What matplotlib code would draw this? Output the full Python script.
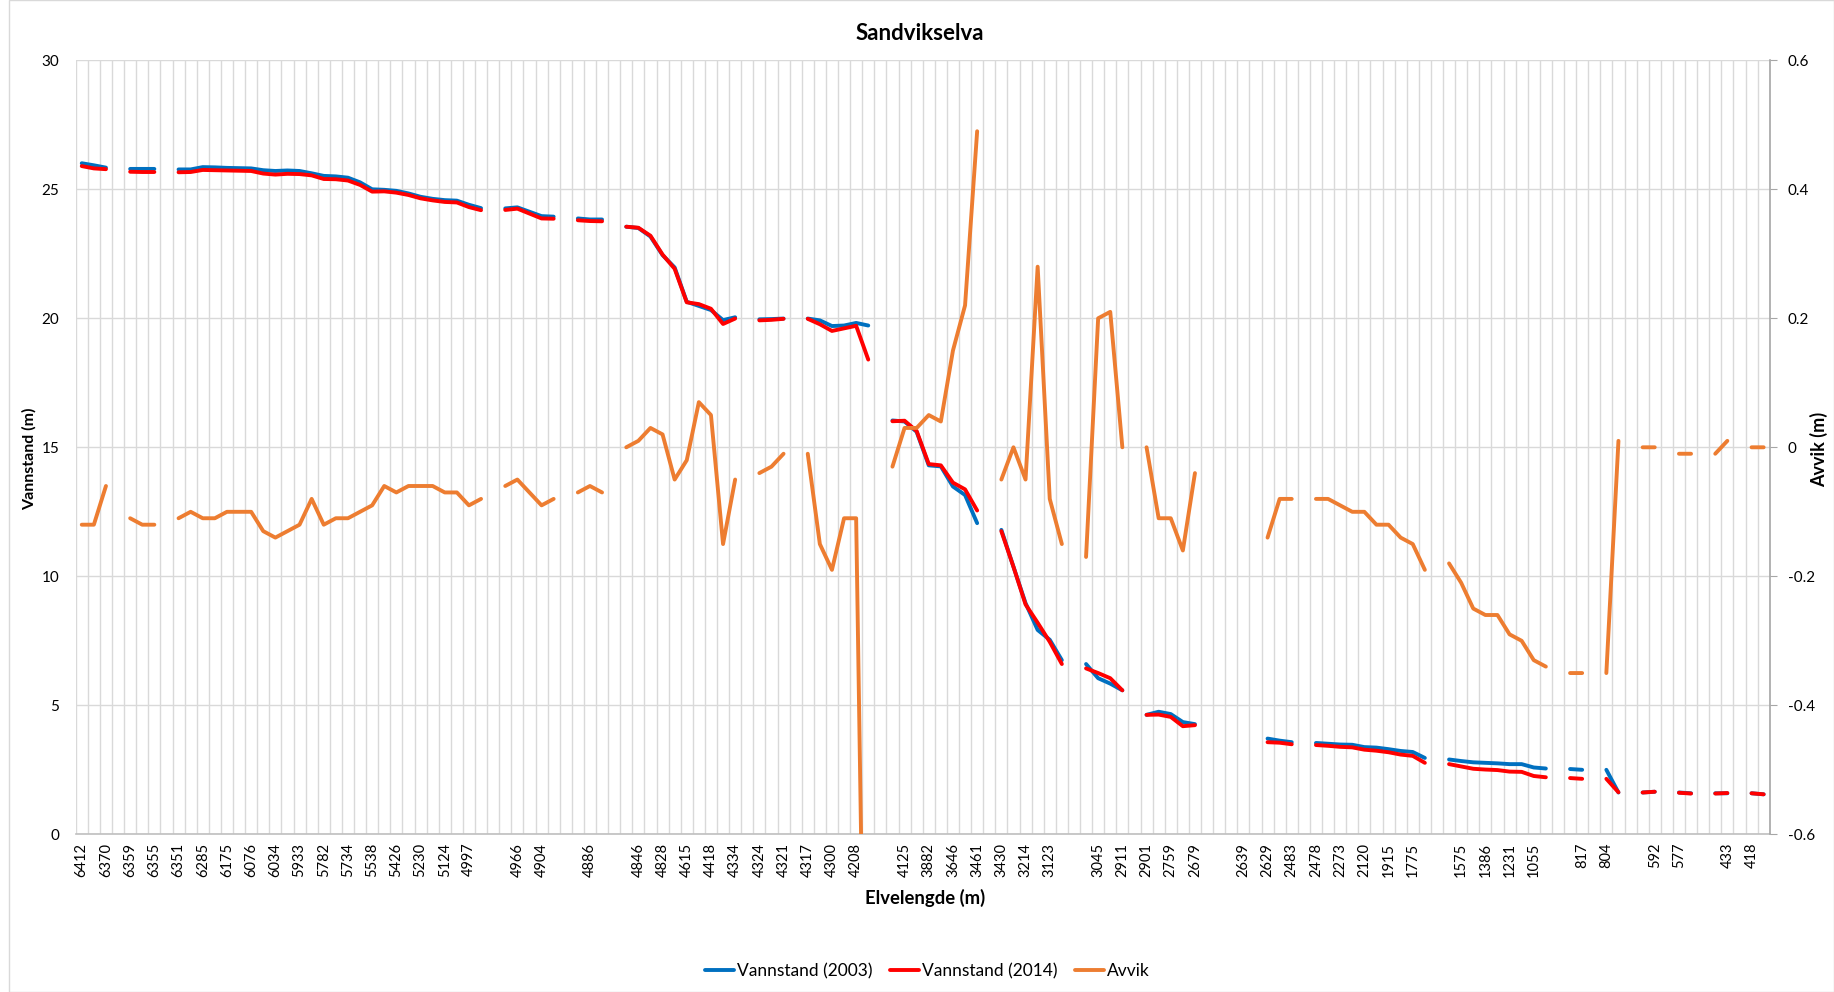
import numpy as np
import matplotlib
matplotlib.use("Agg")
import matplotlib.pyplot as plt
from matplotlib.patches import Rectangle

nan = np.nan

# Category tick labels (shown on every second category)
slot_labels = ["6412", "6370", "6359", "6355", "6351", "6285", "6175", "6076", "6034", "5933",
               "5782", "5734", "5538", "5426", "5230", "5124", "4997", "", "4966", "4904",
               "", "4886", "", "4846", "4828", "4615", "4418", "4334", "4324", "4321",
               "4317", "4300", "4208", "", "4125", "3882", "3646", "3461", "3430", "3214",
               "3123", "", "3045", "2911", "2901", "2759", "2679", "", "2639", "2629",
               "2483", "2478", "2273", "2120", "1915", "1775", "", "1575", "1386", "1231",
               "1055", "", "817", "804", "", "592", "577", "", "433", "418"]

# Vannstand (2003)
vann_2003 = [
    26.01, 25.93, 25.84, nan, 25.79, 25.79, 25.79, nan, 25.77, 25.77,
    25.86, 25.85, 25.83, 25.82, 25.81, 25.74, 25.71, 25.73, 25.71, 25.62,
    25.52, 25.50, 25.45, 25.27, 25.00, 24.98, 24.94, 24.84, 24.71, 24.63,
    24.58, 24.56, 24.40, 24.27, nan, 24.26, 24.30, 24.13, 23.96, 23.94,
    nan, 23.87, 23.83, 23.83, nan, 23.55, 23.50, 23.17, 22.45, 21.97,
    20.64, 20.48, 20.32, 19.93, 20.04, nan, 19.96, 19.97, 19.99, nan,
    19.99, 19.92, 19.70, 19.72, 19.82, 19.72, nan, 16.04, 16.00, 15.60,
    14.30, 14.26, 13.48, 13.15, 12.06, nan, 11.80, 10.37, 8.96, 7.92,
    7.54, 6.75, nan, 6.60, 6.05, 5.84, 5.58, nan, 4.63, 4.75,
    4.66, 4.35, 4.27, nan, nan, nan, nan, nan, 3.71, 3.63,
    3.57, nan, 3.54, 3.51, 3.48, 3.47, 3.38, 3.36, 3.30, 3.23,
    3.19, 2.96, nan, 2.90, 2.84, 2.79, 2.77, 2.75, 2.72, 2.72,
    2.59, 2.55, nan, 2.53, 2.50, nan, 2.50, 1.62, nan, 1.62,
    1.65, nan, 1.62, 1.59, nan, 1.59, 1.59, nan, 1.59, 1.55]

# Vannstand (2014)
vann_2014 = [
    25.90, 25.81, 25.78, nan, 25.68, 25.67, 25.67, nan, 25.66, 25.67,
    25.75, 25.74, 25.73, 25.72, 25.71, 25.61, 25.57, 25.60, 25.59, 25.54,
    25.40, 25.39, 25.34, 25.17, 24.91, 24.92, 24.87, 24.78, 24.65, 24.57,
    24.51, 24.49, 24.31, 24.19, nan, 24.20, 24.25, 24.06, 23.87, 23.86,
    nan, 23.80, 23.77, 23.76, nan, 23.55, 23.51, 23.20, 22.47, 21.92,
    20.62, 20.55, 20.37, 19.78, 19.99, nan, 19.92, 19.94, 19.98, nan,
    19.98, 19.77, 19.51, 19.61, 19.71, 18.40, nan, 16.01, 16.03, 15.63,
    14.35, 14.30, 13.63, 13.37, 12.55, nan, 11.75, 10.37, 8.91, 8.20,
    7.46, 6.60, nan, 6.43, 6.25, 6.05, 5.58, nan, 4.63, 4.64,
    4.55, 4.19, 4.23, nan, nan, nan, nan, nan, 3.57, 3.55,
    3.49, nan, 3.46, 3.43, 3.39, 3.37, 3.28, 3.24, 3.18, 3.09,
    3.04, 2.77, nan, 2.72, 2.63, 2.54, 2.51, 2.49, 2.43, 2.42,
    2.26, 2.21, nan, 2.18, 2.15, nan, 2.15, 1.63, nan, 1.62,
    1.65, nan, 1.61, 1.58, nan, 1.58, 1.60, nan, 1.59, 1.55]

# Avvik (m)
avvik = [
    -0.12, -0.12, -0.06, nan, -0.11, -0.12, -0.12, nan, -0.11, -0.10,
    -0.11, -0.11, -0.10, -0.10, -0.10, -0.13, -0.14, -0.13, -0.12, -0.08,
    -0.12, -0.11, -0.11, -0.10, -0.09, -0.06, -0.07, -0.06, -0.06, -0.06,
    -0.07, -0.07, -0.09, -0.08, nan, -0.06, -0.05, -0.07, -0.09, -0.08,
    nan, -0.07, -0.06, -0.07, nan, 0.00, 0.01, 0.03, 0.02, -0.05,
    -0.02, 0.07, 0.05, -0.15, -0.05, nan, -0.04, -0.03, -0.01, nan,
    -0.01, -0.15, -0.19, -0.11, -0.11, -1.32, nan, -0.03, 0.03, 0.03,
    0.05, 0.04, 0.15, 0.22, 0.49, nan, -0.05, 0.00, -0.05, 0.28,
    -0.08, -0.15, nan, -0.17, 0.20, 0.21, 0.00, nan, 0.00, -0.11,
    -0.11, -0.16, -0.04, nan, nan, nan, nan, nan, -0.14, -0.08,
    -0.08, nan, -0.08, -0.08, -0.09, -0.10, -0.10, -0.12, -0.12, -0.14,
    -0.15, -0.19, nan, -0.18, -0.21, -0.25, -0.26, -0.26, -0.29, -0.30,
    -0.33, -0.34, nan, -0.35, -0.35, nan, -0.35, 0.01, nan, 0.00,
    0.00, nan, -0.01, -0.01, nan, -0.01, 0.01, nan, 0.00, 0.00]

FONT = ["Lato", "DejaVu Sans"]
plt.rcParams["font.family"] = FONT

W, H = 1834, 992
fig = plt.figure(figsize=(W / 100, H / 100), dpi=100)
L, R, T, B = 75.7, 1769.7, 60.3, 834.3
ax = fig.add_axes([L / W, 1 - B / H, (R - L) / W, (B - T) / H])

n = len(vann_2003)
x = np.arange(n)

grid_c = "#d9d9d9"
ax.set_xlim(-0.5, n - 0.5)
ax.set_ylim(0, 30)
ax.set_yticks(np.arange(0, 31, 5))
ax.set_yticklabels([str(v) for v in range(0, 31, 5)], fontsize=11)
ax.tick_params(axis="y", length=0, pad=12)
ax.set_xticks(np.arange(0, n, 2))
ax.set_xticklabels(slot_labels, rotation=90, fontsize=10.5)
ax.set_xticks(np.arange(-0.5, n, 1), minor=True)
ax.tick_params(axis="x", which="both", length=0, pad=6)
ax.grid(True, axis="y", which="major", color=grid_c, lw=1.0)
ax.grid(True, axis="x", which="minor", color=grid_c, lw=1.0)
ax.set_axisbelow(True)
for s in ["top", "left", "right"]:
    ax.spines[s].set_visible(False)
ax.spines["bottom"].set_color("#bfbfbf")
ax.spines["bottom"].set_linewidth(1.2)

LW = 2.8
l1, = ax.plot(x, vann_2003, color="#0070C0", lw=LW, solid_capstyle="round",
              solid_joinstyle="round", label="Vannstand (2003)")
l2, = ax.plot(x, vann_2014, color="#FF0000", lw=LW, solid_capstyle="round",
              solid_joinstyle="round", label="Vannstand (2014)")

ax2 = ax.twinx()
ax2.set_ylim(-0.6, 0.6)
rt = [-0.6, -0.4, -0.2, 0.0, 0.2, 0.4, 0.6]
ax2.set_yticks(rt)
ax2.set_yticklabels(["-0.6", "-0.4", "-0.2", "0", "0.2", "0.4", "0.6"], fontsize=11)
ax2.tick_params(axis="y", length=5, color="#a6a6a6", pad=8)
for s in ["top", "left", "bottom"]:
    ax2.spines[s].set_visible(False)
ax2.spines["right"].set_color("#a6a6a6")
ax2.spines["right"].set_linewidth(1.2)
l3, = ax2.plot(x, avvik, color="#ED7D31", lw=LW, solid_capstyle="round",
               solid_joinstyle="round", label="Avvik")

fig.text(920 / W, 1 - 33 / H, "Sandvikselva", ha="center", va="center",
         fontsize=16, fontweight="bold")
fig.text(29 / W, 1 - 459 / H, "Vannstand (m)", ha="center", va="center",
         rotation=90, fontsize=11.5, fontweight="bold")
fig.text(1819 / W, 1 - 449 / H, "Avvik (m)", ha="center", va="center",
         rotation=90, fontsize=13, fontweight="bold")
fig.text(925 / W, 1 - 898 / H, "Elvelengde (m)", ha="center", va="center",
         fontsize=13.3, fontweight="bold")

fig.legend(handles=[l1, l2, l3], loc="center", bbox_to_anchor=(927 / W, 1 - 971 / H),
           ncol=3, frameon=False, fontsize=12.5, handlelength=1.7, handletextpad=0.15,
           columnspacing=1.0)

fig.patches.append(Rectangle((9 / W, 0.0), (W - 9) / W, 1.0, transform=fig.transFigure,
                             fill=False, edgecolor="#d9d9d9", lw=1.0))

fig.savefig("out.png", dpi=100)
